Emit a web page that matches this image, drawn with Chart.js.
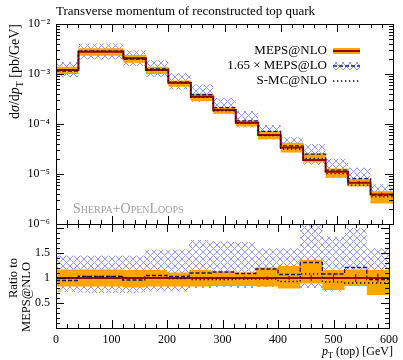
<!DOCTYPE html>
<html>
<head>
<meta charset="utf-8">
<script src="https://cdn.jsdelivr.net/npm/chart.js@4.4.1/dist/chart.umd.min.js"></script>
<style>
  html, body { margin: 0; padding: 0; background: #fff; }
  #wrap { position: relative; width: 403px; height: 360px; }
  #wrap canvas { position: absolute; left: 0; top: 0; }
</style>
</head>
<body>
<div id="wrap">
  <canvas id="mainChart" width="403" height="360"></canvas>
  <canvas id="ratioChart" width="403" height="360"></canvas>
</div>
<script>
// ---- data ----
const binEdges = [0, 40, 120, 160, 200, 240, 280, 320, 360, 400, 440, 480, 520, 560, 600];

// main panel, dsigma/dpT [pb/GeV]
const mepsNlo     = [1.2e-3, 2.8e-3, 2.06e-3, 1.2e-3, 6.7e-4, 3.5e-4, 1.9e-4, 1.06e-4, 6.0e-5, 3.4e-5, 1.9e-5, 1.11e-5, 6.7e-6, 3.9e-6];
const mepsNloUp   = [1.40e-3, 3.28e-3, 2.39e-3, 1.39e-3, 7.44e-4, 4.06e-4, 2.15e-4, 1.18e-4, 7.26e-5, 4.22e-5, 2.58e-5, 1.29e-5, 7.84e-6, 4.52e-6];
const mepsNloDown = [9.96e-4, 2.32e-3, 1.67e-3, 9.96e-4, 5.56e-4, 2.9e-4, 1.6e-4, 8.9e-5, 4.98e-5, 2.69e-5, 1.69e-5, 8.4e-6, 5.63e-6, 2.57e-6];
const mepsNloErr  = [6e-6, 1.4e-5, 2.1e-5, 1.2e-5, 1.0e-5, 7e-6, 4.8e-6, 3.2e-6, 2.1e-6, 1.4e-6, 1.1e-6, 7.8e-7, 5.4e-7, 3.5e-7];
const mepsLo      = [1.14e-3, 2.88e-3, 1.98e-3, 1.26e-3, 6.9e-4, 3.85e-4, 2.13e-4, 1.16e-4, 7.1e-5, 3.64e-5, 2.49e-5, 1.2e-5, 8.1e-6, 3.78e-6];
const mepsLoUp    = [1.74e-3, 4.06e-3, 2.99e-3, 1.88e-3, 1.05e-3, 6.16e-4, 3.31e-4, 1.82e-4, 9.6e-5, 5.44e-5, 3.99e-5, 2.03e-5, 1.34e-5, 6.24e-6];
const mepsLoDown  = [8.64e-4, 1.96e-3, 1.44e-3, 8.76e-4, 4.89e-4, 2.8e-4, 1.56e-4, 8.5e-5, 4.92e-5, 2.72e-5, 1.52e-5, 8.1e-6, 5.76e-6, 3.12e-6];
const smcNlo      = [1.2e-3, 2.88e-3, 2.06e-3, 1.2e-3, 6.63e-4, 3.4e-4, 1.84e-4, 1.04e-4, 5.88e-5, 3.16e-5, 2.05e-5, 1.02e-5, 6.0e-6, 3.5e-6];

// ratio panel, to MEPS@NLO
const ratioNlo     = [1, 1, 1, 1, 1, 1, 1, 1, 1, 1, 1, 1, 1, 1];
const ratioNloUp   = [1.17, 1.17, 1.16, 1.16, 1.11, 1.16, 1.13, 1.11, 1.21, 1.24, 1.36, 1.16, 1.17, 1.16];
const ratioNloDown = [0.83, 0.83, 0.81, 0.83, 0.83, 0.83, 0.84, 0.84, 0.83, 0.79, 0.89, 0.76, 0.84, 0.66];
const ratioNloErr  = [0.005, 0.005, 0.01, 0.01, 0.015, 0.02, 0.025, 0.03, 0.035, 0.04, 0.06, 0.07, 0.08, 0.09];
const ratioLo      = [0.95, 1.03, 0.96, 1.05, 1.03, 1.1, 1.12, 1.09, 1.18, 1.07, 1.31, 1.08, 1.21, 0.97];
const ratioLoUp    = [1.45, 1.45, 1.45, 1.57, 1.57, 1.76, 1.74, 1.72, 1.6, 1.6, 2.1, 1.83, 2.0, 1.6];
const ratioLoDown  = [0.72, 0.7, 0.7, 0.73, 0.73, 0.8, 0.82, 0.8, 0.82, 0.8, 0.8, 0.73, 0.86, 0.8];
const ratioSmc     = [1.0, 1.03, 1.0, 1.0, 0.99, 0.97, 0.97, 0.98, 0.98, 0.93, 1.08, 0.92, 0.9, 0.9];

const xTicks = [0, 100, 200, 300, 400, 500, 600];
const yDecades = [1e-6, 1e-5, 1e-4, 1e-3, 1e-2];
const ratioLabels = [0.5, 1, 1.5];

// ---- helpers ----
const FONT = '"Liberation Serif", "DejaVu Serif", serif';
const ORANGE = '#ffa500';
const RED = '#990000';
const BLUE = '#16167a';

// histogram as step points on the bin edges
function steps(vals) {
  return binEdges.map((x, i) => ({ x: x, y: vals[Math.min(i, vals.length - 1)] }));
}

function hatchPattern() {
  const c = document.createElement('canvas');
  c.width = 7; c.height = 7;
  const g = c.getContext('2d');
  g.strokeStyle = 'rgb(150,150,255)';
  g.lineWidth = 1;
  g.beginPath();
  g.moveTo(0, 0); g.lineTo(7, 7);
  g.moveTo(7, 0); g.lineTo(0, 7);
  g.stroke();
  return g.createPattern(c, 'repeat');
}
const hatch = hatchPattern();

function histDatasets(nlo, nloUp, nloDown, lo, loUp, loDown, smc) {
  const line = { pointRadius: 0, stepped: 'before', fill: false };
  return [
    { ...line, data: steps(smc), borderColor: '#000', borderWidth: 1.3, borderDash: [1.3, 2.7] },
    { ...line, data: steps(nlo), borderColor: RED, borderWidth: 2 },
    { ...line, data: steps(lo), borderColor: BLUE, borderWidth: 1.3, borderDash: [4, 2] },
    { ...line, data: steps(nloUp), borderWidth: 0, borderColor: 'rgba(0,0,0,0)', backgroundColor: ORANGE, fill: '+1' },
    { ...line, data: steps(nloDown), borderWidth: 0, borderColor: 'rgba(0,0,0,0)' },
    { ...line, data: steps(loUp), borderWidth: 0, borderColor: 'rgba(0,0,0,0)', backgroundColor: hatch, fill: '+1' },
    { ...line, data: steps(loDown), borderWidth: 0, borderColor: 'rgba(0,0,0,0)' }
  ];
}

const SUP = { '-': '\u207B', '0': '\u2070', '1': '\u00B9', '2': '\u00B2', '3': '\u00B3', '4': '\u2074', '5': '\u2075', '6': '\u2076' };
function decadeLabel(v) {
  const e = Math.round(Math.log10(v));
  if (Math.abs(Math.log10(v) - e) > 1e-6) return '';
  return '10' + String(e).split('').map(ch => SUP[ch]).join('');
}

// rich text: parts of {t, it, sub}
function richWidth(ctx, parts, size) {
  let w = 0;
  parts.forEach(p => {
    ctx.font = (p.it ? 'italic ' : '') + (p.sub ? size * 0.7 : size) + 'px ' + FONT;
    w += ctx.measureText(p.t).width;
  });
  return w;
}
function drawRich(ctx, parts, x, y, size) {
  let cx = x;
  parts.forEach(p => {
    ctx.font = (p.it ? 'italic ' : '') + (p.sub ? size * 0.7 : size) + 'px ' + FONT;
    ctx.fillText(p.t, cx, p.sub ? y + size * 0.25 : y);
    cx += ctx.measureText(p.t).width;
  });
}

// frame + inward ticks on all four sides
function frameTicks(chart, yMajor, yMinor) {
  const ctx = chart.ctx, a = chart.chartArea;
  const xs = chart.scales.x, ys = chart.scales.y;
  ctx.save();
  ctx.strokeStyle = '#000';
  ctx.lineWidth = 1;
  ctx.beginPath();
  const tick = (px, py, dx, dy) => { ctx.moveTo(px, py); ctx.lineTo(px + dx, py + dy); };
  for (let v = 0; v <= 600; v += 20) {
    const px = Math.round(xs.getPixelForValue(v)) + 0.5;
    const len = v % 100 === 0 ? 8 : 4;
    tick(px, a.top, 0, len);
    tick(px, a.bottom, 0, -len);
  }
  yMajor.forEach(v => {
    const py = Math.round(ys.getPixelForValue(v)) + 0.5;
    tick(a.left, py, 8, 0);
    tick(a.right, py, -8, 0);
  });
  yMinor.forEach(v => {
    const py = Math.round(ys.getPixelForValue(v)) + 0.5;
    tick(a.left, py, 4, 0);
    tick(a.right, py, -4, 0);
  });
  ctx.stroke();
  ctx.strokeRect(Math.round(a.left) + 0.5, Math.round(a.top) + 0.5, Math.round(a.right - a.left), Math.round(a.bottom - a.top));
  ctx.restore();
}

function errorBars(chart, vals, errs) {
  const ctx = chart.ctx, xs = chart.scales.x, ys = chart.scales.y;
  ctx.save();
  ctx.strokeStyle = RED;
  ctx.lineWidth = 1.2;
  ctx.beginPath();
  vals.forEach((v, i) => {
    const px = xs.getPixelForValue((binEdges[i] + binEdges[i + 1]) / 2);
    ctx.moveTo(px, ys.getPixelForValue(v - errs[i]));
    ctx.lineTo(px, ys.getPixelForValue(v + errs[i]));
  });
  ctx.stroke();
  ctx.restore();
}

const logMinor = [];
for (let e = -6; e < -2; e++) for (let k = 2; k <= 9; k++) logMinor.push(k * Math.pow(10, e));
const ratioMajor = [0.5, 1, 1.5, 2];
const ratioMinor = [];
for (let k = 1; k <= 20; k++) if (k % 5 !== 0) ratioMinor.push(k / 10);

// ---- main panel ----
new Chart(document.getElementById('mainChart'), {
  type: 'line',
  data: { datasets: histDatasets(mepsNlo, mepsNloUp, mepsNloDown, mepsLo, mepsLoUp, mepsLoDown, smcNlo) },
  options: {
    responsive: false,
    devicePixelRatio: 1,
    animation: false,
    layout: { padding: { top: 24, right: 10, bottom: 136, left: 0 } },
    plugins: { legend: { display: false }, tooltip: { enabled: false } },
    scales: {
      x: { type: 'linear', min: 0, max: 600, display: false },
      y: {
        type: 'logarithmic', min: 1e-6, max: 1e-2,
        grid: { display: false, drawTicks: false },
        border: { display: false },
        afterFit: s => { s.width = 56; },
        ticks: {
          autoSkip: false, padding: 6, color: '#000',
          font: { family: FONT, size: 12 },
          callback: v => decadeLabel(v)
        }
      }
    }
  },
  plugins: [{
    id: 'mainDecor',
    afterDraw(chart) {
      frameTicks(chart, yDecades, logMinor);
      errorBars(chart, mepsNlo, mepsNloErr);
      const ctx = chart.ctx;
      ctx.save();
      ctx.fillStyle = '#000';
      ctx.textBaseline = 'alphabetic';
      // title
      ctx.font = '13px ' + FONT;
      ctx.textAlign = 'left';
      ctx.fillText('Transverse momentum of reconstructed top quark', 56, 15);
      // legend
      const rows = ['MEPS@NLO', '1.65 \u00D7 MEPS@LO', 'S-MC@NLO'];
      const ry = [51, 66, 81];
      ctx.textAlign = 'right';
      ctx.textBaseline = 'middle';
      rows.forEach((t, i) => ctx.fillText(t, 327, ry[i]));
      ctx.fillStyle = ORANGE;
      ctx.fillRect(333, ry[0] - 3, 27, 6);
      ctx.strokeStyle = RED; ctx.lineWidth = 2;
      ctx.beginPath(); ctx.moveTo(333, ry[0]); ctx.lineTo(360, ry[0]); ctx.stroke();
      ctx.fillStyle = hatch;
      ctx.fillRect(333, ry[1] - 4, 27, 8);
      ctx.strokeStyle = BLUE; ctx.lineWidth = 1.3; ctx.setLineDash([4, 2]);
      ctx.beginPath(); ctx.moveTo(333, ry[1]); ctx.lineTo(360, ry[1]); ctx.stroke();
      ctx.strokeStyle = '#000'; ctx.setLineDash([1.3, 2.7]);
      ctx.beginPath(); ctx.moveTo(333, ry[2]); ctx.lineTo(360, ry[2]); ctx.stroke();
      ctx.setLineDash([]);
      // generator tag
      ctx.fillStyle = '#a0a0a0';
      ctx.textAlign = 'left';
      ctx.font = 'small-caps 14px ' + FONT;
      ctx.fillText('Sherpa+OpenLoops', 73, 209);
      // y title
      ctx.fillStyle = '#000';
      ctx.translate(19, 24);
      ctx.rotate(-Math.PI / 2);
      ctx.textBaseline = 'alphabetic';
      ctx.textAlign = 'left';
      const yParts = [{ t: 'd' }, { t: '\u03C3', it: true }, { t: '/d' }, { t: 'p', it: true }, { t: 'T', sub: true }, { t: ' [pb/GeV]' }];
      const w = richWidth(ctx, yParts, 14);
      drawRich(ctx, yParts, -w, 0, 14);
      ctx.restore();
    }
  }]
});

// ---- ratio panel ----
new Chart(document.getElementById('ratioChart'), {
  type: 'line',
  data: { datasets: histDatasets(ratioNlo, ratioNloUp, ratioNloDown, ratioLo, ratioLoUp, ratioLoDown, ratioSmc) },
  options: {
    responsive: false,
    devicePixelRatio: 1,
    animation: false,
    layout: { padding: { top: 224, right: 10, bottom: 0, left: 0 } },
    plugins: { legend: { display: false }, tooltip: { enabled: false } },
    scales: {
      x: {
        type: 'linear', min: 0, max: 600,
        grid: { display: false, drawTicks: false },
        border: { display: false },
        afterFit: s => { s.height = 32; },
        afterBuildTicks: s => { s.ticks = xTicks.map(v => ({ value: v })); },
        ticks: { autoSkip: false, padding: 5, color: '#000', maxRotation: 0, font: { family: FONT, size: 12 } }
      },
      y: {
        type: 'linear', min: 0, max: 2.08,
        grid: { display: false, drawTicks: false },
        border: { display: false },
        afterFit: s => { s.width = 56; },
        afterBuildTicks: s => { s.ticks = ratioLabels.map(v => ({ value: v })); },
        ticks: { autoSkip: false, padding: 6, color: '#000', font: { family: FONT, size: 12 }, callback: v => String(v) }
      }
    }
  },
  plugins: [{
    id: 'ratioDecor',
    afterDraw(chart) {
      frameTicks(chart, ratioMajor, ratioMinor);
      errorBars(chart, ratioNlo, ratioNloErr);
      const ctx = chart.ctx;
      ctx.save();
      ctx.fillStyle = '#000';
      // x title
      const xParts = [{ t: 'p', it: true }, { t: 'T', sub: true }, { t: ' (top) [GeV]' }];
      const w = richWidth(ctx, xParts, 12);
      ctx.textBaseline = 'alphabetic';
      drawRich(ctx, xParts, 393 - w, 355, 12);
      // y title, two lines
      ctx.font = '12.5px ' + FONT;
      ctx.textAlign = 'center';
      ctx.translate(0, 0);
      ctx.rotate(-Math.PI / 2);
      ctx.fillText('Ratio to', -278, 17);
      ctx.fillText('MEPS@NLO', -297, 30);
      ctx.restore();
    }
  }]
});
</script>
</body>
</html>
